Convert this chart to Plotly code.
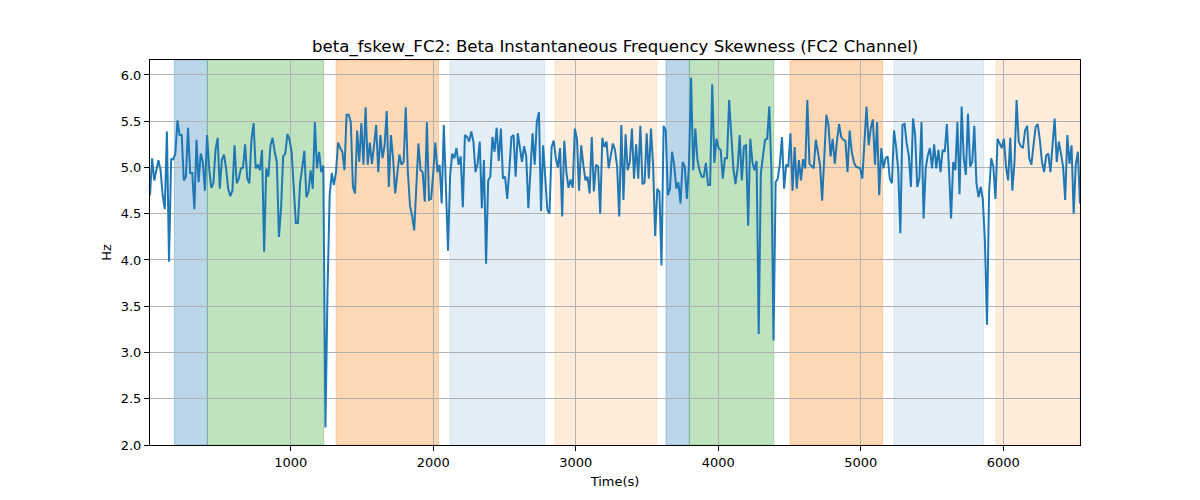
import numpy as np
import plotly.graph_objects as go

t_start = 12.0
t_end = 6538.0

hz = [
    # segment 1
    4.70, 5.10, 4.86, 4.98, 5.08, 4.97, 4.70, 4.55, 5.39, 3.98, 5.09, 5.09, 5.15, 5.51, 5.35, 5.35, 4.86,
    4.90, 5.43, 4.94, 4.94, 4.55, 5.30, 4.84, 5.15, 5.06, 4.75, 5.35, 4.99, 4.78, 4.83, 5.19, 5.32,
    4.77, 5.08, 5.14, 4.99, 4.77, 4.69, 4.75, 5.24, 4.83, 4.88, 4.99, 5.00, 5.25, 4.88, 4.83, 5.30,
    5.48, 4.99, 5.03,
    # segment 2
    4.97, 5.19, 4.09, 4.99, 4.90, 5.24, 5.32, 5.17, 5.06, 4.25, 4.56, 5.12, 5.15, 5.36, 5.30, 5.17,
    4.77, 4.40, 4.40, 4.83, 4.99, 5.18, 4.68, 4.74, 4.97, 4.77, 5.49, 4.99, 5.17, 4.95, 5.02, 2.19, 3.69,
    4.70, 4.94, 4.81, 4.95, 5.27, 5.21, 5.17, 4.97, 5.57, 5.57, 5.49, 4.79, 4.72, 5.40, 5.06, 5.48,
    5.03, 5.65, 5.03, 5.27, 5.04, 5.24,
    # segment 3
    5.46, 4.95, 5.35, 5.10, 5.24, 5.61, 4.79, 5.35, 5.10, 4.72, 4.94, 5.14, 5.03, 5.06, 5.65, 4.95,
    4.59, 4.48, 4.32, 4.74, 5.26, 4.97, 4.95, 4.63, 5.49, 4.65, 4.66, 4.94, 5.27, 4.95, 5.03, 4.61,
    5.46, 4.79, 4.10, 4.92, 5.15, 5.10, 5.21, 5.03, 5.12, 4.57, 5.35, 5.33, 5.28, 5.39, 5.28, 4.95,
    5.04, 5.28, 4.56, 5.08, 3.96, 4.86,
    # segment 4
    4.90, 5.33, 5.17, 5.43, 5.07, 5.42, 4.88, 4.90, 4.66, 4.97, 5.33, 5.35, 4.90, 5.37, 5.22, 5.06,
    5.23, 5.12, 4.56, 5.03, 5.37, 5.03, 5.49, 5.60, 4.53, 5.24, 4.92, 4.54, 4.50, 5.22, 5.29, 5.10,
    5.00, 5.21, 4.47, 5.29, 4.95, 4.78, 4.87, 4.78, 5.42, 5.31, 4.75, 5.24, 5.03, 4.86, 4.90, 4.72,
    5.33, 4.74, 5.03, 5.01, 4.50, 5.32,
    # segment 5
    5.22, 5.28, 4.99, 5.13, 5.26, 5.19, 5.01, 4.47, 5.46, 4.65, 5.36, 4.97, 5.06, 5.42, 4.88, 5.25,
    4.88, 5.45, 4.82, 4.84, 5.37, 4.88, 5.42, 5.04, 4.26, 4.77, 4.74, 3.94, 5.45, 5.40, 4.70, 4.77,
    5.17, 5.03, 4.77, 4.84, 4.61, 5.06, 5.01, 4.66, 5.03, 5.97, 4.97, 5.42, 5.08, 4.97, 4.90, 4.90,
    5.05, 4.81, 4.81, 5.90, 5.05,
    # segment 6
    5.31, 5.21, 5.19, 4.88, 5.10, 5.10, 5.73, 5.31, 4.99, 4.82, 4.99, 5.35, 4.86, 5.23, 5.24, 4.37,
    5.31, 5.06, 4.97, 5.07, 3.20, 4.94, 5.13, 5.30, 5.31, 5.66, 4.97, 3.13, 4.84, 4.88, 5.04, 5.33,
    4.77, 5.03, 5.01, 5.37, 4.75, 5.22, 4.77, 5.08, 4.86, 5.09, 4.99, 5.73, 5.04, 5.01, 4.99, 5.30,
    5.17, 5.03, 4.64, 5.08, 5.57, 5.46, 5.12,
    # segment 7
    5.31, 5.04, 5.28, 5.47, 5.33, 5.30, 5.29, 4.95, 5.40, 5.17, 5.06, 5.01, 5.00, 4.99, 4.88, 5.31,
    5.66, 5.24, 5.42, 5.52, 5.03, 5.49, 4.70, 5.21, 4.99, 5.10, 5.12, 4.88, 4.83, 5.40, 5.22, 4.97,
    4.29, 5.46, 5.47, 5.26, 5.13, 4.79, 5.53, 5.35, 4.79, 4.88, 5.49, 4.45, 4.99, 5.13, 5.21, 4.99,
    5.25, 4.99, 5.19, 4.95, 5.19, 5.17, 5.47, 4.99,
    # segment 8
    4.45, 5.06, 4.97, 5.49, 4.71, 5.66, 5.10, 4.92, 5.58, 5.01, 5.06, 5.45, 4.83, 4.68, 4.79, 4.66,
    4.21, 3.30, 4.74, 5.10, 5.01, 4.66, 5.31, 5.26, 5.21, 5.31, 5.01, 4.86, 5.32, 4.75, 5.06, 5.73,
    5.28, 5.23, 5.21, 5.40, 5.45, 5.10, 5.03, 5.24, 5.44, 5.47, 5.30, 5.06, 4.95, 5.13, 5.15,
    4.95, 5.26, 5.53, 5.06, 5.28, 5.15, 5.01, 4.65, 5.35, 5.04, 5.24, 4.50, 5.03, 5.17, 4.61,
]

time_s = np.linspace(t_start, t_end, len(hz))

span_starts = [183, 415, 1318, 2118, 2854, 3633, 3797, 4503, 5233, 5949]
span_ends = [415, 1231, 2036, 2782, 3568, 3797, 4389, 5153, 5862, 6538]
span_colors = [
    "rgba(31,119,180,0.3)", "rgba(44,160,44,0.3)", "rgba(255,127,14,0.3)",
    "rgba(31,119,180,0.12)", "rgba(255,127,14,0.15)",
    "rgba(31,119,180,0.3)", "rgba(44,160,44,0.3)", "rgba(255,127,14,0.3)",
    "rgba(31,119,180,0.12)", "rgba(255,127,14,0.15)",
]

x_ticks = [1000, 2000, 3000, 4000, 5000, 6000]
y_ticks = [2.0, 2.5, 3.0, 3.5, 4.0, 4.5, 5.0, 5.5, 6.0]

fig = go.Figure()
for s, e, c in zip(span_starts, span_ends, span_colors):
    fig.add_vrect(x0=s, x1=e, fillcolor=c, line=dict(color=c, width=1), layer="below")

fig.add_trace(go.Scatter(x=time_s, y=hz, mode="lines",
                         line=dict(color="#1f77b4", width=2), showlegend=False))

axis_common = dict(showline=True, linecolor="black", linewidth=1, mirror=True,
                   ticks="outside", ticklen=5, tickcolor="black",
                   showgrid=True, gridcolor="#b0b0b0", gridwidth=1, zeroline=False,
                   tickfont=dict(size=13, color="black"))

fig.update_xaxes(range=[t_start, t_end], tickvals=x_ticks,
                 ticktext=[str(v) for v in x_ticks],
                 title=dict(text="Time(s)", font=dict(size=13, color="black"), standoff=8),
                 **axis_common)
fig.update_yaxes(range=[2.0, 6.162], tickvals=y_ticks,
                 ticktext=[f"{v:.1f}" for v in y_ticks],
                 title=dict(text="Hz", font=dict(size=13, color="black"), standoff=6),
                 **axis_common)

fig.update_layout(
    width=1200, height=500,
    margin=dict(l=142, r=128, t=52, b=63),
    paper_bgcolor="white", plot_bgcolor="white",
    font=dict(family="DejaVu Sans", color="black"),
    title=dict(text="beta_fskew_FC2: Beta Instantaneous Frequency Skewness (FC2 Channel)",
               x=0.506, xanchor="center", y=0.924, yanchor="middle",
               font=dict(size=16.6, color="black")),
)

fig.write_html("out.html")
